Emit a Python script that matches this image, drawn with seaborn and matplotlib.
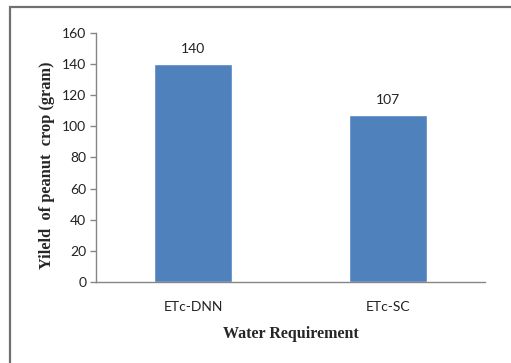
import matplotlib
matplotlib.use("Agg")
import matplotlib.pyplot as plt
import seaborn as sns
import pandas as pd

# values
methods = ["ETc-DNN", "ETc-SC"]
yields = [140, 107]
y_ticks = [0, 20, 40, 60, 80, 100, 120, 140, 160]

df = pd.DataFrame({"method": methods, "yield": yields})

sns.set_style("white")
plt.rcParams['font.family'] = ['Lato', 'DejaVu Sans']

fig = plt.figure(figsize=(5.11, 3.63), dpi=100)
ax = fig.add_axes([96 / 511, 1 - 282 / 363, 389 / 511, 249 / 363])

sns.barplot(data=df, x="method", y="yield", color="#4F81BD", width=0.4,
            saturation=1, ax=ax)

for i, v in enumerate(yields):
    ax.text(i, v + 6, str(v), ha="center", va="bottom", fontsize=10, color="#222222")

ax.set_ylim(0, 160)
ax.set_xlim(-0.5, 1.5)
ax.set_yticks(y_ticks)
ax.tick_params(axis="y", length=4, width=1, color="#868686", left=True,
               labelsize=10, labelcolor="#222222", pad=3)
ax.tick_params(axis="x", length=0, labelsize=10, labelcolor="#222222", pad=14)

for s in ["top", "right"]:
    ax.spines[s].set_visible(False)
for s in ["left", "bottom"]:
    ax.spines[s].set_color("#868686")
    ax.spines[s].set_linewidth(1)

ax.set_xlabel("Water Requirement", family="Liberation Serif", fontweight="bold",
              fontsize=11.5, labelpad=9)
ax.set_ylabel("Yileld  of peanut  crop (gram)", family="Liberation Serif",
              fontweight="bold", fontsize=11.8, va="center")
ax.yaxis.set_label_coords(-0.126, 0.47)

# outer chart frame (only left and top edges fall inside the picture)
frame = plt.Rectangle((10 / 511, -0.2), 1.2, 1.2 - 7 / 363, transform=fig.transFigure,
                      fill=False, edgecolor="#707070", linewidth=1.6, clip_on=False)
fig.add_artist(frame)

fig.savefig("out.png", dpi=100)
